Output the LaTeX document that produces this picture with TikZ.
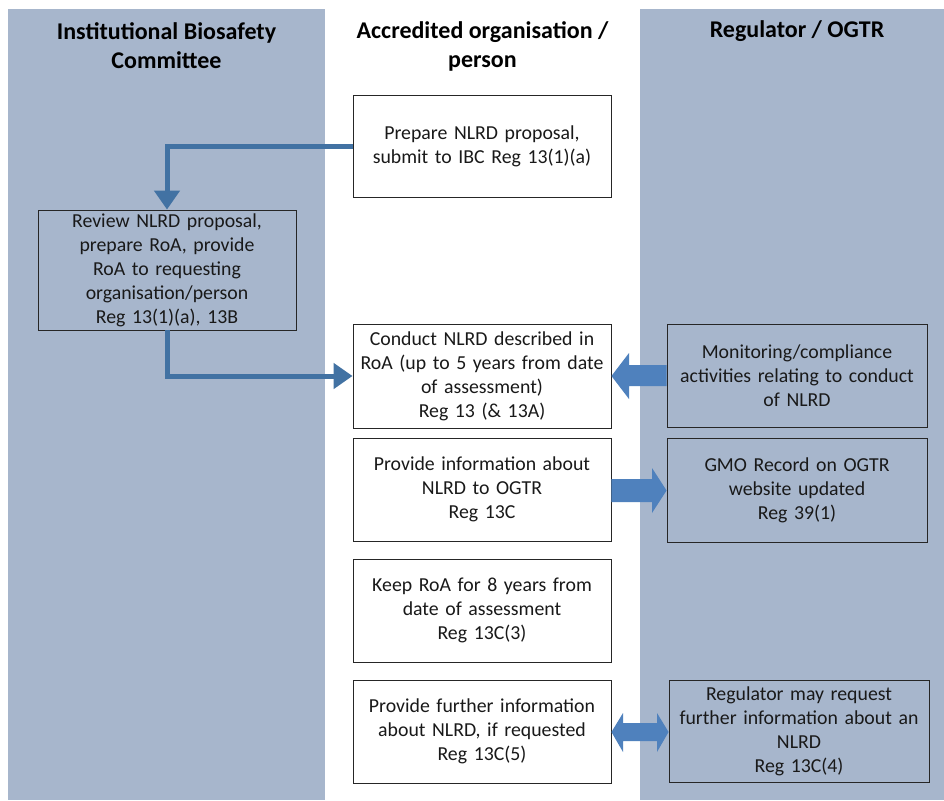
\documentclass[tikz,border=0pt]{standalone}
\usepackage{fontspec}
\setmainfont{Carlito}
\usetikzlibrary{arrows.meta}
\definecolor{lanegrey}{RGB}{167,182,204}
\definecolor{connblue}{RGB}{66,114,163}
\definecolor{blockblue}{RGB}{79,129,189}
\definecolor{txt}{RGB}{25,25,25}
\begin{document}
\begin{tikzpicture}[x=1pt,y=-1pt,
  stepbox/.style={draw=black!85, line width=0.9pt, align=center, text=txt,
    font=\fontsize{19.8}{24}\selectfont, inner sep=0pt},
  header/.style={align=center, text=black, font=\fontsize{24}{29}\selectfont\bfseries},
  conn/.style={draw=connblue, line width=5pt, -{Triangle[length=19pt,width=25pt]}},
  block/.style={fill=blockblue, draw=none}]
\useasboundingbox (0,0) rectangle (944,800);
\fill[white] (0,0) rectangle (944,800);
\fill[lanegrey] (8,9) rectangle (325,800);
\fill[lanegrey] (640,9) rectangle (944,800);
\node[header] (h1) at (166.5,46) {Institutional Biosafety\\Committee};
\node[header] (h2) at (482.5,46) {Accredited organisation /\\person};
\node[header] (h3) at (797,31) {Regulator / OGTR};

\node[stepbox, fill=white, minimum width=258pt, minimum height=102pt, text width=242pt] (prep) at (482,146)
  {Prepare NLRD proposal,\\submit to IBC Reg 13(1)(a)};
\node[stepbox, fill=lanegrey, minimum width=258pt, minimum height=120pt, text width=242pt] (review) at (167,270)
  {Review NLRD proposal,\\prepare RoA, provide\\RoA to requesting\\organisation/person\\Reg 13(1)(a), 13B};
\node[stepbox, fill=white, minimum width=258pt, minimum height=104pt, text width=252pt] (conduct) at (482,376)
  {Conduct NLRD described in\\RoA (up to 5 years from date\\of assessment)\\Reg 13 (\& 13A)};
\node[stepbox, fill=lanegrey, minimum width=260pt, minimum height=103pt, text width=252pt] (monitor) at (797,375.5)
  {Monitoring/compliance\\activities relating to conduct\\of NLRD};
\node[stepbox, fill=white, minimum width=258pt, minimum height=103pt, text width=242pt] (provide) at (482,489.5)
  {Provide information about\\NLRD to OGTR\\Reg 13C};
\node[stepbox, fill=lanegrey, minimum width=260pt, minimum height=104pt, text width=250pt] (gmo) at (797,490)
  {GMO Record on OGTR\\website updated\\Reg 39(1)};
\node[stepbox, fill=white, minimum width=258pt, minimum height=103pt, text width=242pt] (keep) at (482,610.5)
  {Keep RoA for 8 years from\\date of assessment\\Reg 13C(3)};
\node[stepbox, fill=white, minimum width=258pt, minimum height=103pt, text width=242pt] (further) at (482,731.5)
  {Provide further information\\about NLRD, if requested\\Reg 13C(5)};
\node[stepbox, fill=lanegrey, minimum width=260pt, minimum height=102pt, text width=252pt] (regmay) at (799,731.5)
  {Regulator may request\\further information about an\\NLRD\\Reg 13C(4)};

\draw[conn] (prep.west) -| (review.north);
\draw[conn] (review.south) |- (conduct.west);

% block arrows
\fill[block] (conduct.east |- 0,376) -- (629,353) -- (629,365) -- (monitor.west |- 0,365)
  -- (monitor.west |- 0,386) -- (629,386) -- (629,399) -- cycle;
\fill[block] (provide.east |- 0,479) -- (652,479) -- (652,468) -- (gmo.west |- 0,490.5)
  -- (652,513) -- (652,502) -- (provide.east |- 0,502) -- cycle;
\fill[block] (further.east |- 0,732) -- (623,713) -- (623,723) -- (657,723) -- (657,713)
  -- (regmay.west |- 0,732) -- (657,752) -- (657,741) -- (623,741) -- (623,752) -- cycle;
\end{tikzpicture}
\end{document}
